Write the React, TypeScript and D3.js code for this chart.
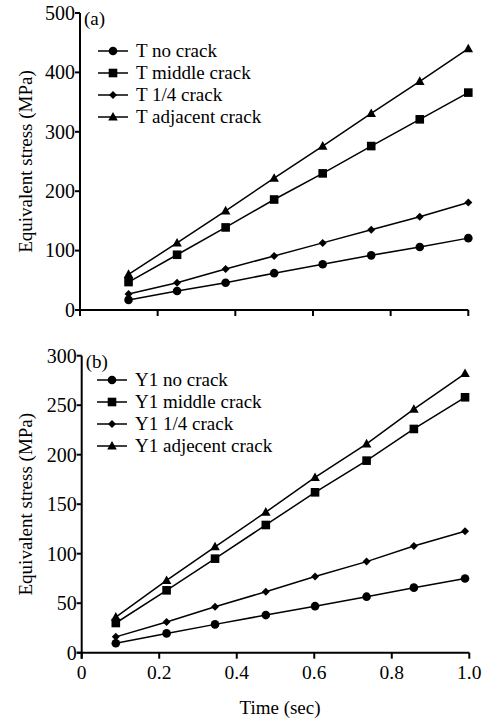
import React from "react";
import * as d3 from "d3";

// panel (a)
const timeA = [0.125, 0.25, 0.375, 0.5, 0.625, 0.75, 0.875, 1.0];
const tNoCrack = [17, 32, 46, 62, 77, 92, 106, 121];
const tMiddle = [47, 93, 139, 186, 230, 276, 321, 366];
const tQuarter = [27, 46, 69, 91, 113, 135, 157, 181];
const tAdjacent = [60, 113, 167, 222, 276, 331, 385, 440];
const ticksA = [0, 100, 200, 300, 400, 500];
const namesA = ["T no crack", "T middle crack", "T 1/4 crack", "T adjacent crack"];

// panel (b)
const timeB = [0.088, 0.219, 0.344, 0.475, 0.602, 0.735, 0.857, 0.989];
const yNoCrack = [9.5, 19.5, 28.6, 38, 47, 56.6, 65.7, 75];
const yMiddle = [30, 63, 95, 129, 162, 194, 226, 258];
const yQuarter = [16, 31, 46.5, 61.6, 77, 92, 107.7, 122.6];
const yAdjacent = [36, 73, 107, 142, 177, 211, 246, 282];
const ticksB = [0, 50, 100, 150, 200, 250, 300];
const namesB = ["Y1 no crack", "Y1 middle crack", "Y1 1/4 crack", "Y1 adjecent crack"];

const timeTicks = [0, 0.2, 0.4, 0.6, 0.8, 1.0];
const markers = ["circle", "square", "diamond", "triangle"];

const font = "Liberation Serif, Times New Roman, DejaVu Serif, serif";
const txt = { fontFamily: font };

function Marker({ kind, x, y }: { kind: string; x: number; y: number }) {
  if (kind === "circle") return <circle cx={x} cy={y} r={4.3} fill="#000" />;
  if (kind === "square") return <rect x={x - 4.3} y={y - 4.3} width={8.6} height={8.6} fill="#000" />;
  if (kind === "diamond")
    return <path d={`M${x},${y - 4}L${x + 4},${y}L${x},${y + 4}L${x - 4},${y}Z`} fill="#000" />;
  return <path d={`M${x},${y - 5}L${x + 4.8},${y + 3.6}L${x - 4.8},${y + 3.6}Z`} fill="#000" />;
}

function Panel(props: {
  top: number;
  bottom: number;
  left: number;
  right: number;
  yMax: number;
  yTicks: number[];
  times: number[];
  series: number[][];
  names: string[];
  tag: string;
  legendY: number;
  legendX: number;
  showXLabels: boolean;
}) {
  const x = d3.scaleLinear().domain([0, 1]).range([props.left, props.right]);
  const y = d3.scaleLinear().domain([0, props.yMax]).range([props.bottom, props.top]);
  const line = d3
    .line<number>()
    .x((_, i) => x(props.times[i]))
    .y((d) => y(d));
  const midY = (props.top + props.bottom) / 2;

  return (
    <g fill="#000">
      {props.series.map((s, k) => (
        <g key={k}>
          <path d={line(s) || ""} fill="none" stroke="#000" strokeWidth={1.5} />
          {s.map((v, i) => (
            <Marker key={i} kind={markers[k]} x={x(props.times[i])} y={y(v)} />
          ))}
        </g>
      ))}

      {/* axes */}
      <line x1={props.left} x2={props.left} y1={props.top} y2={props.bottom + 6} stroke="#000" strokeWidth={2} />
      <line x1={props.left - 5} x2={props.right} y1={props.bottom} y2={props.bottom} stroke="#000" strokeWidth={2} />
      {props.yTicks.map((t) => (
        <g key={t}>
          <line x1={props.left - 5} x2={props.left} y1={y(t)} y2={y(t)} stroke="#000" strokeWidth={2} />
          <text x={props.left - 5} y={y(t)} dy="0.34em" textAnchor="end" fontSize={20} style={txt}>
            {t}
          </text>
        </g>
      ))}
      {timeTicks.map((t) => (
        <g key={t}>
          <line x1={x(t)} x2={x(t)} y1={props.bottom} y2={props.bottom + 6} stroke="#000" strokeWidth={2} />
          {props.showXLabels && (
            <text x={x(t)} y={props.bottom + 26} textAnchor="middle" fontSize={19.5} style={txt}>
              {t === 0 ? "0" : t.toFixed(1)}
            </text>
          )}
        </g>
      ))}

      <text
        transform={`translate(32,${midY}) rotate(-90)`}
        textAnchor="middle"
        fontSize={19}
        style={txt}
      >
        Equivalent stress (MPa)
      </text>
      <text x={props.left + 4} y={props.top + 12} fontSize={19} style={txt}>
        {props.tag}
      </text>

      {/* legend */}
      {props.names.map((n, k) => (
        <g key={n} transform={`translate(${props.legendX},${props.legendY + k * 22})`}>
          <line x1={0} x2={30} y1={0} y2={0} stroke="#000" strokeWidth={1.5} />
          <Marker kind={markers[k]} x={15} y={0} />
          <text x={38} y={0} dy="0.32em" fontSize={19} style={txt}>
            {n}
          </text>
        </g>
      ))}
    </g>
  );
}

export default function App() {
  return (
    <svg width={483} height={721} style={{ position: "absolute", left: 0, top: 0, background: "#fff" }}>
      <rect width={483} height={721} fill="#fff" />
      <Panel
        top={13}
        bottom={310}
        left={80}
        right={468.3}
        yMax={500}
        yTicks={ticksA}
        times={timeA}
        series={[tNoCrack, tMiddle, tQuarter, tAdjacent]}
        names={namesA}
        tag="(a)"
        legendX={98}
        legendY={51}
        showXLabels={false}
      />
      <Panel
        top={355.7}
        bottom={652.7}
        left={81.7}
        right={469.3}
        yMax={300}
        yTicks={ticksB}
        times={timeB}
        series={[yNoCrack, yMiddle, yQuarter, yAdjacent]}
        names={namesB}
        tag="(b)"
        legendX={97}
        legendY={380}
        showXLabels={true}
      />
      <text x={280} y={714} textAnchor="middle" fontSize={19} style={txt}>
        Time (sec)
      </text>
    </svg>
  );
}
